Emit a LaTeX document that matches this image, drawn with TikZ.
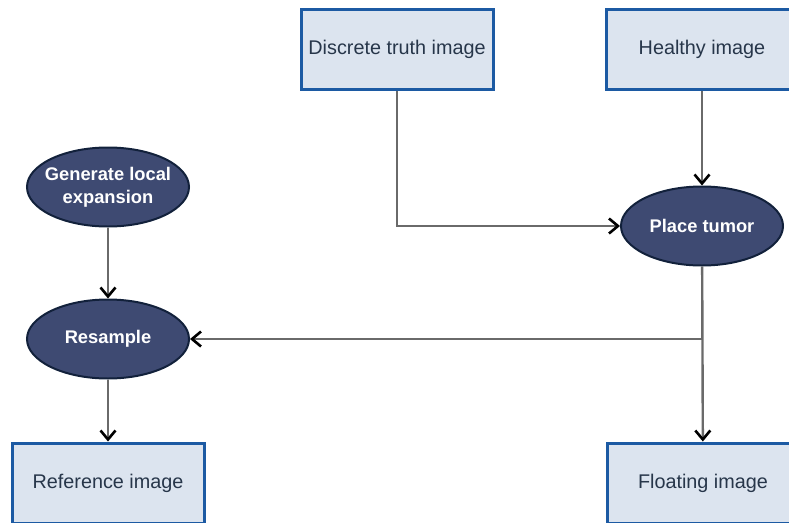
\documentclass[tikz,border=0pt]{standalone}
\usepackage{fontspec}
\setmainfont{Liberation Sans}
\usepackage{xcolor}
\usetikzlibrary{shapes.geometric,arrows.meta}

\definecolor{boxfill}{HTML}{DCE4EF}
\definecolor{boxline}{HTML}{1C5AA3}
\definecolor{boxtext}{HTML}{27364A}
\definecolor{ovalfill}{HTML}{3E4A72}
\definecolor{ovalline}{HTML}{12213B}
\definecolor{linkgray}{HTML}{6A6A6A}

\tikzset{
  imgbox/.style={draw=boxline, line width=3pt, fill=boxfill, text=boxtext,
    minimum width=192pt, minimum height=80pt, inner sep=0pt,
    font=\fontsize{19.8}{23}\selectfont},
  procnode/.style={ellipse, draw=ovalline, line width=2pt, fill=ovalfill,
    text=white, minimum width=162pt, minimum height=79pt,
    inner xsep=-14pt, inner ysep=0pt,
    align=center, font=\bfseries\fontsize{18.3}{23}\selectfont},
  flow/.style={draw=linkgray, line width=2.4pt,
    -{Straight Barb[length=9pt,width=15pt,line width=2.6pt,color=black]}},
}

\begin{document}
\begin{tikzpicture}[x=1pt,y=-1pt]
      \useasboundingbox (0,0) rectangle (789,522);
      % inputs
      \node [imgbox] (discrete) at (397,49) {Discrete truth image};
      \node [imgbox] (healthy) at (702,49) {Healthy image};
      % processing steps
      \node [procnode] (expansion) at (108,187) {Generate local\\expansion};
      \node [procnode] (tumor) at (702,226) {Place tumor};
      \node [procnode] (resample) at (108,339) {Resample};
      % outputs
      \node [imgbox] (reference) at (108,483) {Reference image};
      \node [imgbox] (floating) at (703,483) {Floating image};
      \coordinate (split) at (tumor.south |- resample);

      \draw [flow] (discrete) |- (tumor);
      \draw [flow] (healthy) -- (tumor);
      \draw [flow] (tumor) -- (floating);
      \draw [flow] (split) -- (resample);
      \draw [flow] (expansion) -- (resample);
      \draw [flow] (resample) -- (reference);
    \end{tikzpicture}
\end{document}
